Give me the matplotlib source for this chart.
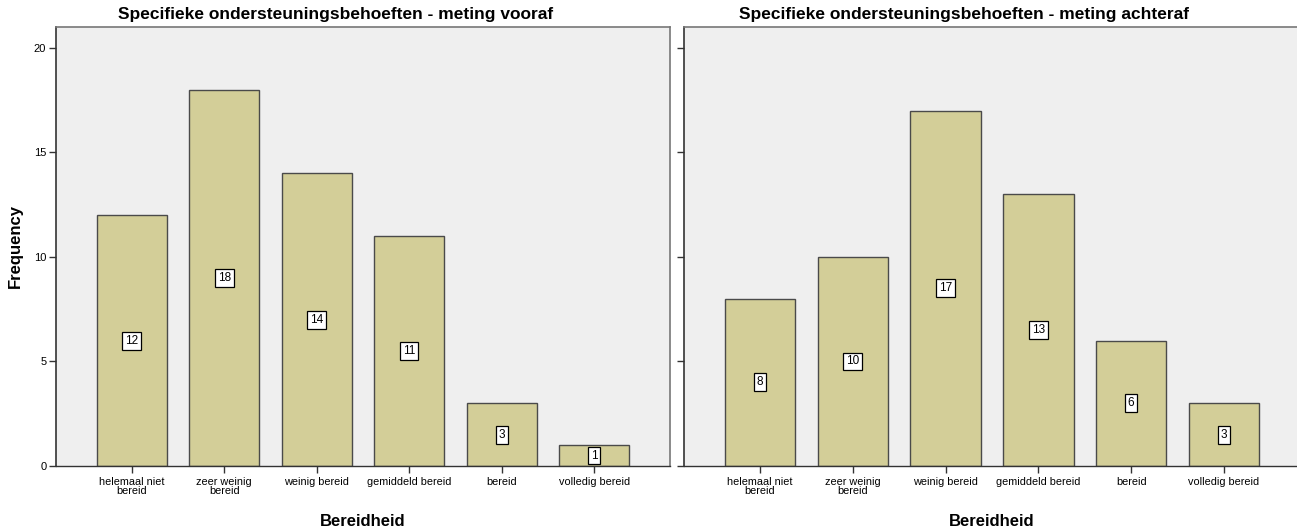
import numpy as np
import matplotlib
matplotlib.use("Agg")
import matplotlib.pyplot as plt

plt.rcParams['font.family'] = ['Liberation Sans', 'DejaVu Sans']

categories = ["helemaal niet\nbereid", "zeer weinig\nbereid", "weinig bereid",
              "gemiddeld bereid", "bereid", "volledig bereid"]
vooraf = [12, 18, 14, 11, 3, 1]
achteraf = [8, 10, 17, 13, 6, 3]
titles = ["Specifieke ondersteuningsbehoeften - meting vooraf",
          "Specifieke ondersteuningsbehoeften - meting achteraf"]

bar_color = "#d3ce98"
edge_color = "#4a4a4a"
bg_color = "#efefef"

W, H = 1297, 529
fig = plt.figure(figsize=(W / 100, H / 100), dpi=100)
bottom = (H - 466) / H
height = (466 - 27) / H
ax1 = fig.add_axes([56 / W, bottom, (670 - 56) / W, height])
ax2 = fig.add_axes([684 / W, bottom, (1300 - 684) / W, height])

x = np.arange(len(categories))
for ax, vals in [(ax1, vooraf), (ax2, achteraf)]:
    ax.set_facecolor(bg_color)
    ax.bar(x, vals, width=0.76, color=bar_color, edgecolor=edge_color, linewidth=1.0, zorder=2)
    for xi, v in zip(x, vals):
        ax.text(xi, v / 2, str(v), ha="center", va="center", fontsize=8.5, zorder=3,
                bbox=dict(boxstyle="square,pad=0.25", fc="white", ec="black", lw=0.9))
    ax.set_xlim(-0.82, 5.82)
    ax.set_ylim(0, 21)
    ax.set_yticks([0, 5, 10, 15, 20])
    ax.set_xticks(x)
    ax.set_xticklabels(categories, fontsize=7.8, linespacing=0.85)
    ax.tick_params(axis="both", direction="out", length=5, width=1, color="#333333",
                   labelsize=8, pad=2)
    ax.tick_params(axis="x", labelsize=7.8, pad=3)
    ax.set_xlabel("Bereidheid", fontsize=12, fontweight="bold", labelpad=13)
    for side in ["top", "right", "left"]:
        ax.spines[side].set_color("#777777")
        ax.spines[side].set_linewidth(1.2)
    ax.spines["left"].set_color("#333333")
    ax.spines["bottom"].set_color("#333333")
    ax.spines["bottom"].set_linewidth(1.0)

# titles are centred over each panel (including the y label area)
fig.text(336 / W, 1 - 14 / H, titles[0], ha="center", va="center",
         fontsize=12.5, fontweight="bold")
fig.text(964 / W, 1 - 14 / H, titles[1], ha="center", va="center",
         fontsize=12.5, fontweight="bold")

ax1.set_ylabel("Frequency", fontsize=12, fontweight="bold", labelpad=8)
ax2.set_yticklabels([])

fig.savefig("out.png", dpi=100, facecolor="white")
